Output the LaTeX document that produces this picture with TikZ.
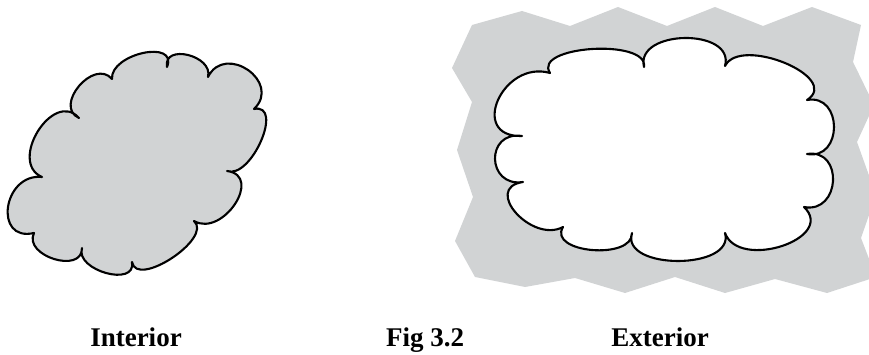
\documentclass[tikz,border=0pt]{standalone}
\usepackage{fontspec}
\setmainfont{Liberation Serif}
\usepackage{tikz}

\definecolor{cloudgray}{RGB}{209,211,212}

% one bulge of a cloud: start (#1,#2), top (#3,#4), end (#5,#6)
\newcommand\bump[6]{.. controls ({#1+4/3*(#3-(#1+#5)/2)-0.12*(#5-#1)},{#2+4/3*(#4-(#2+#6)/2)-0.12*(#6-#2)}) and ({#5+4/3*(#3-(#1+#5)/2)+0.12*(#5-#1)},{#6+4/3*(#4-(#2+#6)/2)+0.12*(#6-#2)}) .. (#5,#6)}

\tikzset{
    cloudline/.style={line width=2.1pt,black,line join=round},
    caption/.style={anchor=base,font=\fontsize{27}{32}\selectfont\bfseries}
}

\begin{document}
\begin{tikzpicture}[x=1pt,y=-1pt]
    \useasboundingbox (0,0) rectangle (869,355);

    % interior: shaded cloud
    \draw[cloudline,fill=cloudgray] (79,118)
        \bump{79}{118}{79}{86}{112}{79}
        \bump{112}{79}{143}{53}{167}{67}
        \bump{167}{67}{188}{55}{208}{77}
        \bump{208}{77}{248}{70}{254}{109}
        \bump{254}{109}{261}{141}{227}{171}
        \bump{227}{171}{235}{204}{194}{221}
        \bump{194}{221}{172}{258}{132}{262}
        \bump{132}{262}{106}{273}{82}{248}
        \bump{82}{248}{54}{259}{34}{233}
        \bump{34}{233}{8}{207}{42}{177}
        \bump{42}{177}{38}{131}{79}{118} -- cycle;

    % exterior: shaded region round a white cloud
    \fill[cloudgray] (472,25) -- (522,11) -- (570,26) -- (618,7) -- (667,26) -- (715,7)
        -- (763,26) -- (812,7) -- (861,25) -- (853,62) -- (874,105) -- (857,142)
        -- (876,195) -- (861,238) -- (876,277) -- (827,293) -- (775,279) -- (725,293)
        -- (675,277) -- (625,293) -- (575,278) -- (525,287) -- (475,277) -- (455,241)
        -- (473,197) -- (457,150) -- (472,102) -- (452,68) -- cycle;
    \draw[cloudline,fill=white] (522,136)
        \bump{522}{136}{498}{100}{550}{73}
        \bump{550}{73}{592}{49}{644}{67}
        \bump{644}{67}{685}{38}{725}{66}
        \bump{725}{66}{785}{63}{807}{100}
        \bump{807}{100}{834}{127}{807}{154}
        \bump{807}{154}{833}{181}{804}{207}
        \bump{804}{207}{782}{246}{725}{233}
        \bump{725}{233}{678}{261}{632}{233}
        \bump{632}{233}{592}{250}{563}{227}
        \bump{563}{227}{516}{213}{523}{182}
        \bump{523}{182}{495}{159}{522}{136} -- cycle;

    \node[caption] (interior) at (136,346) {Interior};
    \node[caption] (fig) at (425,346) {Fig 3.2};
    \node[caption] (exterior) at (660,346) {Exterior};
\end{tikzpicture}
\end{document}
